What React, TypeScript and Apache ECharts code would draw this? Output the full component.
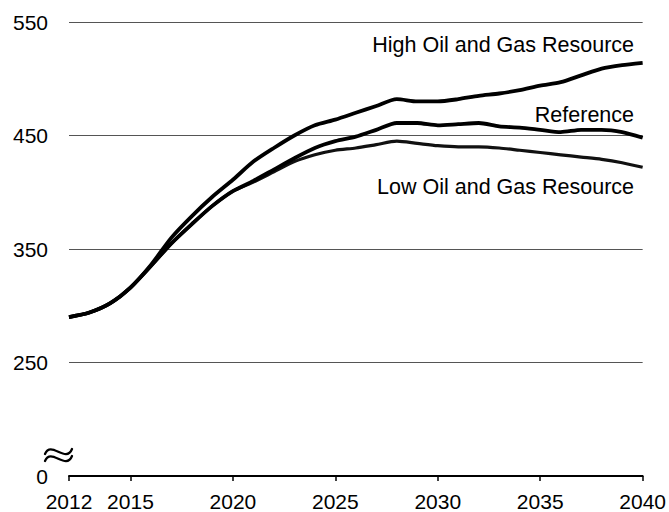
import React, { useEffect, useRef } from "react";
import * as echarts from "echarts";

const years: string[] = [
  "2012","2013","2014","2015","2016","2017","2018","2019","2020","2021",
  "2022","2023","2024","2025","2026","2027","2028","2029","2030","2031",
  "2032","2033","2034","2035","2036","2037","2038","2039","2040",
];

const highResource: number[] = [
  290, 294, 302, 316, 336, 360, 379, 396, 411, 427,
  439, 450, 459, 464, 470, 476, 482, 480, 480, 482,
  485, 487, 490, 494, 497, 503, 509, 512, 514,
];

const reference: number[] = [
  290, 294, 302, 316, 335, 355, 372, 388, 401, 410,
  420, 430, 439, 445, 449, 455, 461, 461, 459, 460,
  461, 458, 457, 455, 453, 455, 455, 453, 448,
];

const lowResource: number[] = [
  290, 294, 302, 316, 335, 355, 372, 388, 401, 409,
  418, 427, 433, 437, 439, 442, 445, 443, 441, 440,
  440, 439, 437, 435, 433, 431, 429, 426, 422,
];

const seriesNames: string[] = [
  "High Oil and Gas Resource",
  "Reference",
  "Low Oil and Gas Resource",
];

// y axis: the bottom of the scale (150) is shown as "0" because of the axis break
const yMin = 150;
const yMax = 550;
const yInterval = 100;
const shownYears: string[] = ["2012", "2015", "2020", "2025", "2030", "2035", "2040"];

const FONT = "'Liberation Sans', Arial, sans-serif";

function breakWave(dy: number) {
  return {
    type: "bezierCurve",
    shape: {
      x1: 45, y1: 454 + dy,
      cpx1: 51, cpy1: 440 + dy,
      cpx2: 66, cpy2: 464 + dy,
      x2: 72, y2: 449 + dy,
    },
    style: { stroke: "#000", lineWidth: 2.3, fill: null, lineCap: "round" },
    z: 10,
  };
}

export default function App() {
  const ref = useRef<HTMLDivElement>(null);
  useEffect(() => {
    if (!ref.current) return;
    const chart = echarts.init(ref.current, undefined, { renderer: "svg" });
    const showIdx = (i: number) => shownYears.includes(years[i]);
    chart.setOption({
      animation: false,
      backgroundColor: "#ffffff",
      grid: { left: 69, right: 26, top: 22, bottom: 36, containLabel: false },
      xAxis: {
        type: "category",
        data: years,
        boundaryGap: false,
        axisLine: { show: true, lineStyle: { color: "#000", width: 2 } },
        axisTick: {
          show: true,
          inside: false,
          length: 5,
          interval: (i: number) => showIdx(i),
          lineStyle: { color: "#000", width: 1.5 },
        },
        axisLabel: {
          interval: (i: number) => showIdx(i),
          color: "#000",
          fontSize: 21,
          fontFamily: FONT,
          margin: 15,
          verticalAlign: "top",
          lineHeight: 21,
        },
        splitLine: { show: false },
      },
      yAxis: {
        type: "value",
        min: yMin,
        max: yMax,
        interval: yInterval,
        axisLine: { show: false },
        axisTick: { show: false },
        axisLabel: {
          color: "#000",
          fontSize: 21,
          fontFamily: FONT,
          margin: 21,
          formatter: (v: number) => (v === yMin ? "0" : String(v)),
        },
        splitLine: {
          show: true,
          lineStyle: { color: "#555", width: 1 },
        },
      },
      series: [
        {
          name: seriesNames[0],
          type: "line",
          data: highResource,
          showSymbol: false,
          smooth: 0.25,
          lineStyle: { color: "#000", width: 3.8 },
          z: 3,
        },
        {
          name: seriesNames[1],
          type: "line",
          data: reference,
          showSymbol: false,
          smooth: 0.25,
          lineStyle: { color: "#000", width: 3.8 },
          z: 3,
        },
        {
          name: seriesNames[2],
          type: "line",
          data: lowResource,
          showSymbol: false,
          smooth: 0.25,
          lineStyle: { color: "#111", width: 3.2 },
          z: 2,
        },
      ],
      graphic: [
        {
          type: "text",
          right: 35,
          top: 34,
          style: { text: seriesNames[0], fill: "#000", fontSize: 21.5, fontFamily: FONT },
        },
        {
          type: "text",
          right: 35,
          top: 104,
          style: { text: seriesNames[1], fill: "#000", fontSize: 21.5, fontFamily: FONT },
        },
        {
          type: "text",
          right: 35,
          top: 176,
          style: { text: seriesNames[2], fill: "#000", fontSize: 21.5, fontFamily: FONT },
        },
        breakWave(0),
        breakWave(7),
      ],
    });
    return () => chart.dispose();
  }, []);
  return (
    <div
      ref={ref}
      style={{ position: "absolute", left: 0, top: 0, width: 669, height: 512 }}
    />
  );
}
